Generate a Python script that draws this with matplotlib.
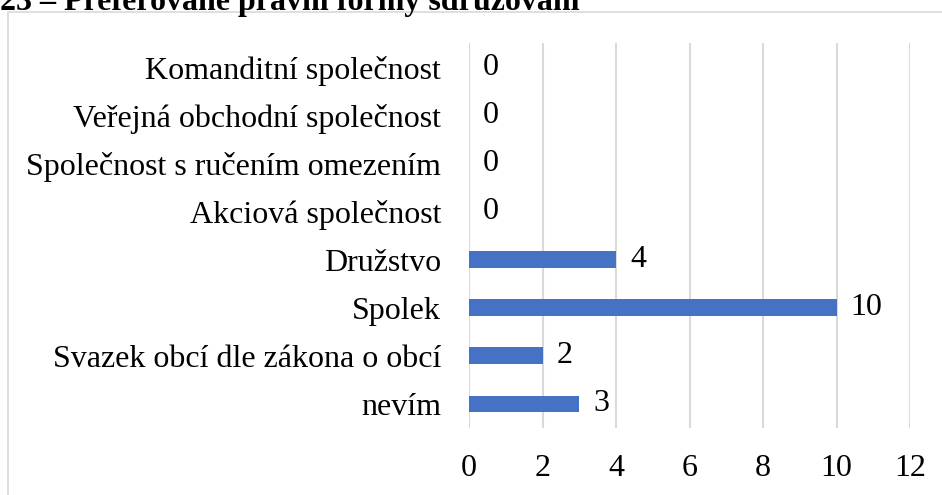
import matplotlib.pyplot as plt
from matplotlib.patches import Rectangle

categories = [
  "Komanditní společnost",
  "Veřejná obchodní společnost",
  "Společnost s ručením omezením",
  "Akciová společnost",
  "Družstvo",
  "Spolek",
  "Svazek obcí dle zákona o obcí",
  "nevím",
]
values = [0, 0, 0, 0, 4, 10, 2, 3]
x_ticks = [0, 2, 4, 6, 8, 10, 12]
title = "23 – Preferované právní formy sdružování"

plt.rcParams['font.family'] = ['Liberation Serif', 'DejaVu Serif']

W, H = 942, 495
fig = plt.figure(figsize=(W / 100, H / 100), dpi=100)

# chart border (Excel-like frame, partly cut off)
fig.patches.append(Rectangle((8 / W, -0.1), 1.2, 1 - 12 / H + 0.1,
                             transform=fig.transFigure, fill=False,
                             edgecolor="#d9d9d9", linewidth=1.2))

fig.text(0.0, 1 - 10 / H, title, fontsize=23, fontweight="bold",
         va="baseline", ha="left")

ax = fig.add_axes([469 / W, 1 - 428 / H, (910 - 469) / W, (428 - 43) / H])
pos = list(range(len(categories)))[::-1]
ax.barh(pos, values, height=0.35, color="#4472C4", zorder=3)

for p, v in zip(pos, values):
  ax.annotate(str(v), (v, p), xytext=(10, 0), textcoords="offset points",
              va="center", ha="left", fontsize=23)

ax.set_xlim(0, 12)
ax.set_ylim(-0.5, len(categories) - 0.5)
ax.set_xticks(x_ticks)
ax.set_yticks(pos)
ax.set_yticklabels(categories)
ax.tick_params(axis="both", length=0, labelsize=23)
ax.tick_params(axis="x", pad=19)
ax.tick_params(axis="y", pad=20)
ax.grid(axis="x", color="#d9d9d9", linewidth=1.5, zorder=0)
for s in ax.spines.values():
  s.set_visible(False)

plt.savefig("out.png", dpi=100)
